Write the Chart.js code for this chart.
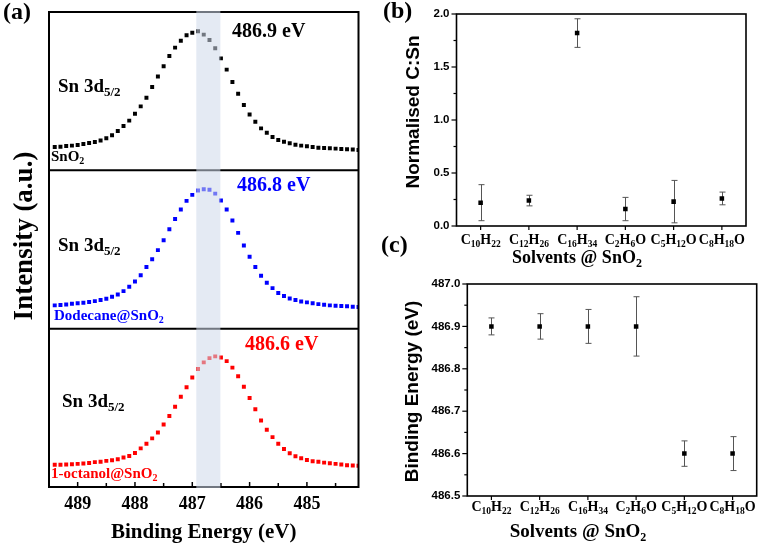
<!DOCTYPE html>
<html>
<head>
<meta charset="utf-8">
<script src="https://cdn.jsdelivr.net/npm/chart.js@4/dist/chart.umd.min.js"></script>
<style>
html,body{margin:0;padding:0;background:#fff;}
body{position:relative;width:763px;height:545px;overflow:hidden;}
canvas{position:absolute;}
</style>
</head>
<body>
<canvas id="ca" width="380" height="545" style="left:0;top:0"></canvas>
<canvas id="cb" width="383" height="270" style="left:380px;top:0"></canvas>
<canvas id="cc" width="383" height="275" style="left:380px;top:270px"></canvas>
<script>
// ---------- DATA ----------
const energyEV = [489.4, 489.3, 489.2, 489.1, 489.0, 488.9, 488.8, 488.7, 488.6, 488.5,
  488.4, 488.3, 488.2, 488.1, 488.0, 487.9, 487.8, 487.7, 487.6, 487.5,
  487.4, 487.3, 487.2, 487.1, 487.0, 486.9, 486.8, 486.7, 486.6, 486.5,
  486.4, 486.3, 486.2, 486.1, 486.0, 485.9, 485.8, 485.7, 485.6, 485.5,
  485.4, 485.3, 485.2, 485.1, 485.0, 484.9, 484.8, 484.7, 484.6, 484.5,
  484.4, 484.3, 484.2, 484.1];
const intensitySnO2 = [14.7, 14.9, 15.4, 15.6, 16.0, 16.6, 17.3, 17.9, 18.9, 20.2,
  22.2, 24.9, 28.0, 31.4, 35.8, 40.4, 45.9, 52.6, 59.2, 65.7,
  72.2, 77.5, 81.9, 85.3, 86.9, 87.8, 85.7, 82.3, 77.1, 70.7,
  63.6, 55.8, 48.4, 41.3, 35.2, 30.7, 26.5, 23.8, 21.1, 19.2,
  18.1, 17.1, 16.2, 15.6, 15.2, 14.7, 14.3, 14.1, 13.9, 13.7,
  13.5, 13.3, 13.1, 12.8];
const intensityDodecane = [14.7, 14.9, 15.3, 15.8, 16.0, 16.4, 16.8, 17.4, 18.1, 18.9,
  20.2, 21.6, 23.7, 26.5, 29.8, 33.8, 38.9, 43.9, 49.6, 55.9,
  62.8, 69.3, 75.2, 80.7, 84.5, 87.2, 88.0, 87.8, 85.3, 80.9,
  75.2, 68.3, 60.5, 52.5, 45.4, 38.9, 33.4, 29.0, 25.6, 22.5,
  20.6, 19.1, 18.1, 17.2, 16.6, 16.0, 15.5, 15.1, 14.7, 14.5,
  14.3, 14.1, 13.9, 13.7];
const intensityOctanol = [14.0, 14.0, 14.2, 14.4, 14.6, 14.8, 15.2, 15.7, 15.9, 16.5,
  16.9, 17.5, 18.6, 19.6, 21.5, 24.4, 27.3, 30.7, 34.4, 39.5,
  44.9, 50.7, 57.0, 63.0, 69.1, 74.5, 78.7, 81.4, 82.5, 81.8,
  79.5, 75.4, 69.9, 63.3, 56.2, 49.1, 42.0, 36.1, 31.5, 27.3,
  24.0, 21.3, 19.4, 18.2, 17.1, 16.3, 15.9, 15.4, 15.0, 14.6,
  14.2, 13.8, 13.6, 13.4];
const shiftBandEV = [486.93, 486.51];
const energyTicksEV = [489, 488.5, 488, 487.5, 487, 486.5, 486, 485.5, 485, 484.5];

const solvents = ['C_{10}H_{22}', 'C_{12}H_{26}', 'C_{16}H_{34}', 'C_{2}H_{6}O', 'C_{5}H_{12}O', 'C_{8}H_{18}O'];
const ratioCSn = [0.22, 0.24, 1.82, 0.16, 0.23, 0.26];
const ratioErr = [0.17, 0.05, 0.135, 0.11, 0.20, 0.06];
const ratioTicks = [0, 0.5, 1.0, 1.5, 2.0];
const ratioMinorTicks = [0.25, 0.75, 1.25, 1.75];

const bindingEV = [486.9, 486.9, 486.9, 486.9, 486.6, 486.6];
const bindingErr = [0.02, 0.03, 0.04, 0.07, 0.03, 0.04];
const bindingTicks = [486.5, 486.6, 486.7, 486.8, 486.9, 487.0];
const bindingMinorTicks = [486.55, 486.65, 486.75, 486.85, 486.95];

// ---------- HELPERS ----------
const SERIF = '"Liberation Serif", "Times New Roman", serif';
const SANS = '"Liberation Sans", Arial, sans-serif';
Chart.defaults.font.family = SANS;
Chart.defaults.animation = false;

function richParts(str) {
  const parts = []; const re = /_\{([^}]*)\}/g; let last = 0, m;
  while ((m = re.exec(str))) {
    if (m.index > last) parts.push({t: str.slice(last, m.index), sub: false});
    parts.push({t: m[1], sub: true});
    last = re.lastIndex;
  }
  if (last < str.length) parts.push({t: str.slice(last), sub: false});
  return parts;
}
function drawRich(ctx, str, x, y, o) {
  const parts = richParts(str);
  let w = 0;
  for (const p of parts) {
    ctx.font = `bold ${p.sub ? o.sub : o.size}px ${o.family}`;
    p.w = ctx.measureText(p.t).width; w += p.w;
  }
  let cx = o.align === 'center' ? x - w / 2 : (o.align === 'right' ? x - w : x);
  ctx.save();
  ctx.textAlign = 'left'; ctx.textBaseline = 'alphabetic'; ctx.fillStyle = o.color || '#000';
  for (const p of parts) {
    ctx.font = `bold ${p.sub ? o.sub : o.size}px ${o.family}`;
    ctx.fillText(p.t, cx, p.sub ? y + o.dy : y);
    cx += p.w;
  }
  ctx.restore();
}
function drawRotated(ctx, str, x, y, size, family) {
  ctx.save();
  ctx.translate(x, y); ctx.rotate(-Math.PI / 2);
  ctx.font = `bold ${size}px ${family}`;
  ctx.textAlign = 'center'; ctx.textBaseline = 'alphabetic'; ctx.fillStyle = '#000';
  ctx.fillText(str, 0, 0);
  ctx.restore();
}

// ---------- PANEL (a) ----------
const panelOffsets = [200, 100, 0];
const pointStyleA = {pointStyle: 'rect', pointRadius: 2.8, pointBorderWidth: 0, showLine: false};
const panelAPlugin = {
  id: 'panelA',
  afterDraw(chart) {
    const {ctx, chartArea: ca, scales: {x, y}} = chart;
    ctx.save();
    ctx.strokeStyle = '#000'; ctx.lineWidth = 2;
    ctx.strokeRect(ca.left, ca.top, ca.right - ca.left, ca.bottom - ca.top);
    ctx.beginPath();
    [100, 200].forEach(v => { const py = y.getPixelForValue(v); ctx.moveTo(ca.left, py); ctx.lineTo(ca.right, py); });
    ctx.stroke();
    ctx.lineWidth = 1.5;
    energyTicksEV.forEach(v => {
      const px = x.getPixelForValue(v);
      const len = Number.isInteger(v) ? 5 : 4;
      ctx.beginPath(); ctx.moveTo(px, ca.bottom); ctx.lineTo(px, ca.bottom - len); ctx.stroke();
    });
    const b1 = x.getPixelForValue(shiftBandEV[0]), b2 = x.getPixelForValue(shiftBandEV[1]);
    ctx.fillStyle = 'rgba(205,216,234,0.55)';
    ctx.fillRect(Math.min(b1, b2), ca.top - 1, Math.abs(b2 - b1), ca.bottom - ca.top + 2);
    ctx.restore();

    const big = {size: 19, sub: 13, family: SERIF, dy: 4, align: 'left'};
    drawRich(ctx, 'Sn 3d_{5/2}', 58, 92, big);
    drawRich(ctx, 'Sn 3d_{5/2}', 58, 251, big);
    drawRich(ctx, 'Sn 3d_{5/2}', 62, 407, big);
    const pk = {size: 20, sub: 14, family: SERIF, dy: 4, align: 'left'};
    drawRich(ctx, '486.9 eV', 232, 37, Object.assign({}, pk, {color: '#000'}));
    drawRich(ctx, '486.8 eV', 237, 191, Object.assign({}, pk, {color: '#0000ff'}));
    drawRich(ctx, '486.6 eV', 245, 350, Object.assign({}, pk, {color: '#ff0000'}));
    const sm = {size: 15, sub: 10, family: SERIF, dy: 3, align: 'left'};
    drawRich(ctx, 'SnO_{2}', 51, 161, Object.assign({}, sm, {color: '#000'}));
    drawRich(ctx, 'Dodecane@SnO_{2}', 54, 320, Object.assign({}, sm, {color: '#0000ff'}));
    drawRich(ctx, '1-octanol@SnO_{2}', 51, 478, Object.assign({}, sm, {color: '#ff0000'}));
    drawRich(ctx, '(a)', 3, 19, {size: 24, sub: 14, family: SERIF, dy: 0, align: 'left'});
    drawRotated(ctx, 'Intensity (a.u.)', 31.5, 236, 27, SERIF);
  }
};

new Chart(document.getElementById('ca'), {
  type: 'scatter',
  data: {
    datasets: [
      Object.assign({data: energyEV.map((e, i) => ({x: e, y: intensitySnO2[i] + panelOffsets[0]})), backgroundColor: '#000', borderColor: '#000'}, pointStyleA),
      Object.assign({data: energyEV.map((e, i) => ({x: e, y: intensityDodecane[i] + panelOffsets[1]})), backgroundColor: '#0000ff', borderColor: '#0000ff'}, pointStyleA),
      Object.assign({data: energyEV.map((e, i) => ({x: e, y: intensityOctanol[i] + panelOffsets[2]})), backgroundColor: '#ff0000', borderColor: '#ff0000'}, pointStyleA)
    ]
  },
  options: {
    responsive: false, animation: false,
    layout: {padding: {left: 49, right: 21.5, top: 12, bottom: 0}},
    plugins: {legend: {display: false}, tooltip: {enabled: false}},
    scales: {
      x: {
        type: 'linear', min: 484.1, max: 489.5, reverse: true,
        grid: {display: false, drawTicks: false}, border: {display: false},
        ticks: {color: '#000', font: {family: SERIF, size: 18, weight: 'bold'}, padding: 7, autoSkip: false, maxRotation: 0,
          callback: v => Number.isInteger(v) ? String(v) : ''},
        afterBuildTicks: s => { s.ticks = energyTicksEV.map(v => ({value: v})); },
        title: {display: true, text: 'Binding Energy (eV)', color: '#000', font: {family: SERIF, size: 21, weight: 'bold'}, padding: {top: 0, bottom: 0}},
        afterFit: s => { s.height = 58; }
      },
      y: {display: false, min: 0, max: 300}
    }
  },
  plugins: [panelAPlugin]
});

// ---------- PANELS (b) and (c) ----------
function catPlugin(cfg) {
  return {
    id: 'cat' + cfg.id,
    beforeDatasetsDraw(chart) {
      const {ctx, scales: {x, y}} = chart;
      ctx.save(); ctx.strokeStyle = '#555'; ctx.lineWidth = 1;
      cfg.values.forEach((v, i) => {
        const px = Math.round(x.getPixelForValue(i)) + 0.5;
        const yt = y.getPixelForValue(v + cfg.errors[i]), yb = y.getPixelForValue(v - cfg.errors[i]);
        ctx.beginPath();
        ctx.moveTo(px, yt); ctx.lineTo(px, yb);
        ctx.moveTo(px - 3, yt); ctx.lineTo(px + 3, yt);
        ctx.moveTo(px - 3, yb); ctx.lineTo(px + 3, yb);
        ctx.stroke();
      });
      ctx.restore();
    },
    afterDraw(chart) {
      const {ctx, chartArea: ca, scales: {x, y}} = chart;
      ctx.save();
      ctx.strokeStyle = '#000'; ctx.lineWidth = 1.6;
      ctx.strokeRect(ca.left, ca.top, ca.right - ca.left, ca.bottom - ca.top);
      ctx.lineWidth = 1.2;
      y.ticks.forEach(t => { const py = y.getPixelForValue(t.value); ctx.beginPath(); ctx.moveTo(ca.left, py); ctx.lineTo(ca.left - 5, py); ctx.stroke(); });
      cfg.minor.forEach(v => { const py = y.getPixelForValue(v); ctx.beginPath(); ctx.moveTo(ca.left, py); ctx.lineTo(ca.left - 3, py); ctx.stroke(); });
      cfg.labels.forEach((l, i) => { const px = x.getPixelForValue(i); ctx.beginPath(); ctx.moveTo(px, ca.bottom); ctx.lineTo(px, ca.bottom + 4); ctx.stroke(); });
      ctx.restore();
      cfg.labels.forEach((l, i) => {
        drawRich(ctx, l, x.getPixelForValue(i), cfg.labelBaseline, {size: 14, sub: 9.5, family: SERIF, dy: 3, align: 'center'});
      });
      drawRich(ctx, 'Solvents @ SnO_{2}', cfg.titleX, cfg.titleBaseline, {size: cfg.titleSize, sub: 12, family: SERIF, dy: 4, align: 'center'});
      drawRotated(ctx, cfg.yTitle, cfg.yTitleX, cfg.yTitleY, 19, SANS);
      (cfg.panelLabels || []).forEach(p => drawRich(ctx, p.t, p.x, p.y, {size: 24, sub: 14, family: SERIF, dy: 0, align: 'left'}));
    }
  };
}

function catChart(canvasId, values, ticks, yMin, yMax, padRight, yWidth, xHeight, plugin) {
  return new Chart(document.getElementById(canvasId), {
    type: 'line',
    data: {labels: solvents, datasets: [{data: values, showLine: false, pointStyle: 'rect', pointRadius: 3.2, pointBorderWidth: 0, backgroundColor: '#000', borderColor: '#000'}]},
    options: {
      responsive: false, animation: false,
      layout: {padding: {left: 0, right: padRight, top: 14, bottom: 0}},
      plugins: {legend: {display: false}, tooltip: {enabled: false}},
      scales: {
        x: {type: 'category', offset: true, grid: {display: false, drawTicks: false}, border: {display: false}, ticks: {display: false},
          afterFit: s => { s.height = xHeight; }},
        y: {min: yMin, max: yMax, grid: {display: false, drawTicks: false}, border: {display: false},
          ticks: {color: '#000', font: {family: SANS, size: 11.5, weight: 'bold'}, padding: 7, callback: v => Number(v).toFixed(1)},
          afterBuildTicks: s => { s.ticks = ticks.map(v => ({value: v})); },
          afterFit: s => { s.width = yWidth; }}
      }
    },
    plugins: [plugin]
  });
}

catChart('cb', ratioCSn, ratioTicks, 0, 2, 17, 76.5, 44, catPlugin({
  id: 'b', values: ratioCSn, errors: ratioErr, minor: ratioMinorTicks, labels: solvents,
  labelBaseline: 244, titleX: 197, titleBaseline: 263, titleSize: 18,
  yTitle: 'Normalised C:Sn', yTitleX: 39, yTitleY: 112,
  panelLabels: [{t: '(b)', x: 3, y: 18}, {t: '(c)', x: 1, y: 252}]
}));

catChart('cc', bindingEV, bindingTicks, 486.5, 487.0, 6.3, 87.3, 49, catPlugin({
  id: 'c', values: bindingEV, errors: bindingErr, minor: bindingMinorTicks, labels: solvents,
  labelBaseline: 240.5, titleX: 198, titleBaseline: 266.5, titleSize: 19,
  yTitle: 'Binding Energy (eV)', yTitleX: 38, yTitleY: 121.5
}));
</script>
</body>
</html>
